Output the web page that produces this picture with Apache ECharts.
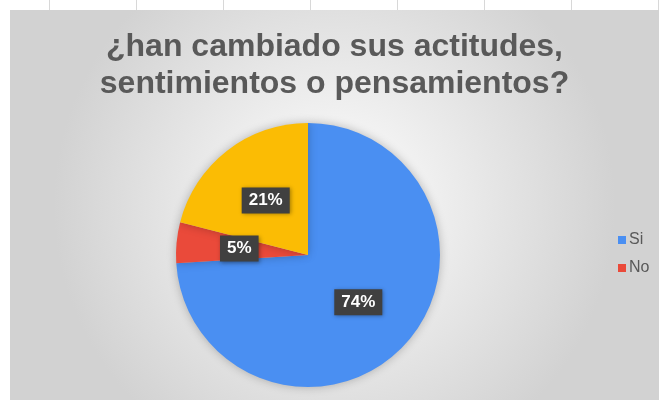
<!DOCTYPE html>
<html lang="es">
<head>
  <meta charset="utf-8">
  <style>
    html, body { margin: 0; height: 100%; }
    body {
      background-color: #fff;
      background-image: repeating-linear-gradient(to right, transparent 0, transparent 48px, #d8d8d8 48px, #d8d8d8 49px, transparent 49px, transparent 87px);
      background-size: 100% 10px;
      background-repeat: no-repeat;
      background-position: 1px 0;
    }
    #container { position: absolute; left: 10px; top: 10px; width: 649px; height: 390px; }
  </style>
</head>
<body>
  <div id="container"></div>
  <script src="https://cdn.jsdelivr.net/npm/echarts@6/dist/echarts.min.js"></script>
  <script>
    var titulo = '¿han cambiado sus actitudes,\nsentimientos o pensamientos?';
    var categorias = ['Si', 'No', ''];
    var valores = [74, 5, 21];
    var colores = ['#4a8ff2', '#ea4a3a', '#fbbc04'];

    var myChart = echarts.init(document.getElementById('container'));

    var datos = categorias.map(function (c, i) {
      return { name: c, value: valores[i], itemStyle: { color: colores[i] } };
    });

    var option = {
      backgroundColor: {
        type: 'radial', x: 0.5, y: 0.5, r: 0.72,
        colorStops: [
          { offset: 0, color: '#ffffff' },
          { offset: 1, color: '#d2d2d2' }
        ]
      },
      title: {
        text: titulo,
        left: 'center',
        top: 14,
        textStyle: {
          fontFamily: 'Liberation Sans',
          fontSize: 32,
          fontWeight: 'bold',
          color: '#595959',
          lineHeight: 37
        }
      },
      legend: {
        data: ['Si', 'No'],
        orient: 'vertical',
        left: 603,
        top: 217,
        itemWidth: 8,
        itemHeight: 8,
        itemGap: 12,
        icon: 'rect',
        textStyle: { fontFamily: 'Liberation Sans', fontSize: 16, color: '#595959', padding: [0, 0, 0, -2] }
      },
      series: [
        {
          type: 'pie',
          center: [298, 245],
          radius: 132,
          startAngle: 90,
          clockwise: true,
          animation: false,
          itemStyle: { shadowBlur: 10, shadowColor: 'rgba(0,0,0,0.25)' },
          emphasis: { disabled: true },
          label: {
            show: true,
            position: 'inside',
            formatter: '{d}%',
            fontFamily: 'Liberation Sans',
            fontSize: 17,
            fontWeight: 'bold',
            color: '#ffffff',
            backgroundColor: '#404040',
            padding: [5, 7, 4, 7],
            shadowBlur: 4,
            shadowColor: 'rgba(0,0,0,0.35)',
            shadowOffsetX: 1,
            shadowOffsetY: 1
          },
          labelLine: { show: false },
          data: datos
        }
      ]
    };
    myChart.setOption(option);
  </script>
</body>
</html>
